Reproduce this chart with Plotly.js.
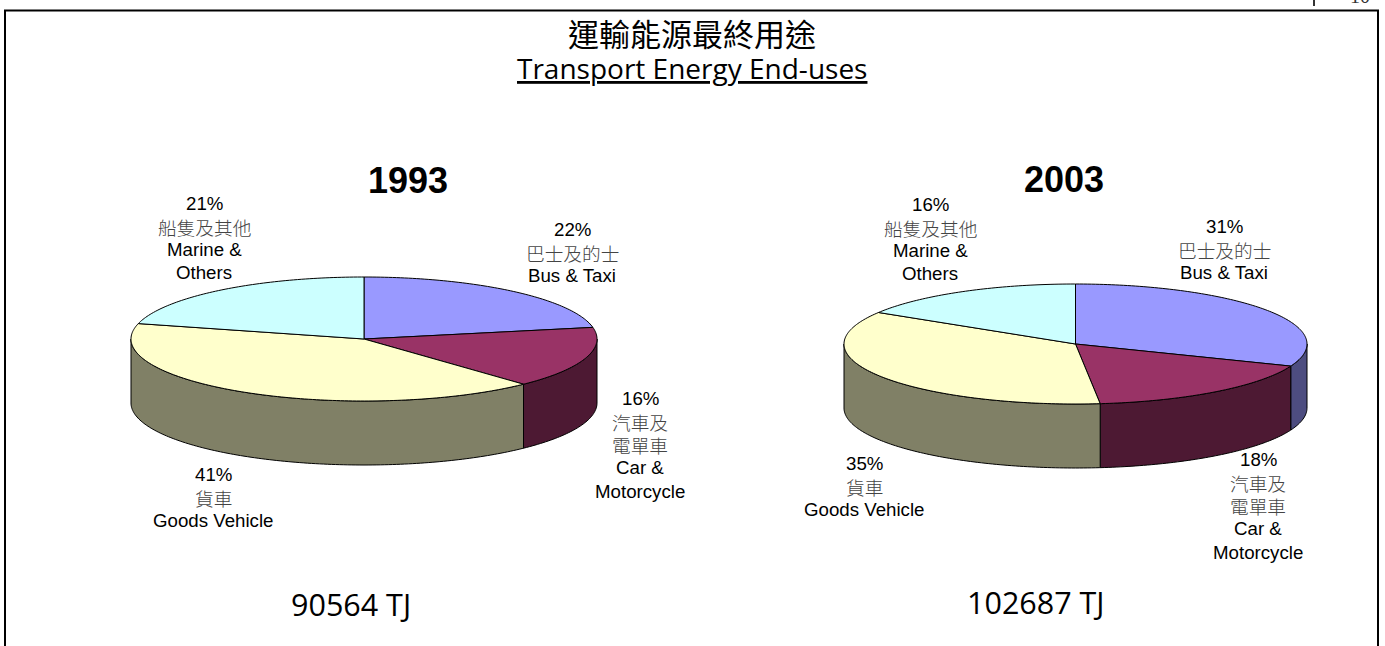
<!DOCTYPE html>
<html><head><meta charset="utf-8">
<script src="https://cdn.plot.ly/plotly-3.0.1.min.js"></script>
<style>html,body{margin:0;padding:0;background:#fff;overflow:hidden}#c{width:1385px;height:646px}</style>
</head><body><div id="c"></div>
<script>
const categoriesZh = ['巴士及的士','汽車及<br>電單車','貨車','船隻及其他'];
const categoriesEn = ['Bus & Taxi','Car &<br>Motorcycle','Goods Vehicle','Marine &<br>Others'];
const values1993 = [22, 16, 41, 21];
const values2003 = [31, 17.3, 35.5, 16.2];
const percent1993 = ['22%','16%','41%','21%'];
const percent2003 = ['31%','18%','35%','16%'];
const topColors = ['#9999FF','#993366','#FFFFCC','#CCFFFF'];
const wallColors = ['#4D4D80','#4D1933','#808066','#668080'];
const totals = ['90564 TJ','102687 TJ'];
const years = ['1993','2003'];

const pies = [
  {values:values1993, pct:percent1993, cx:364, cy:339, rx:233, ry:62, d:64,
   labels:[[572,229],[640,398],[213,474],[204,203]], year:[408,180], total:[351,604]},
  {values:values2003, pct:percent2003, cx:1075.5, cy:344, rx:231.5, ry:60, d:64,
   labels:[[1224,226],[1258,459],[864,463],[930,204]], year:[1064,179], total:[1036,602]}
];
const LH = 23.3;
const traces = [], annotations = [];
const CJK = '"Noto Sans CJK TC"', ARIAL = '"Liberation Sans", Arial, sans-serif', UI = '"Open Sans","Noto Sans CJK TC",sans-serif';

function note(x,y,text,size,family,extra){
  annotations.push(Object.assign({x,y,text,xref:'x',yref:'y',showarrow:false,xanchor:'center',yanchor:'middle',
    font:{size,family,color:'#000'}},extra||{}));
}
function poly(xs,ys,fill,name){
  traces.push({type:'scatter',mode:'lines',x:xs,y:ys,fill:'toself',fillcolor:fill,
    line:{color:'#000',width:1,simplify:false},hoverinfo:'skip',showlegend:false,name});
}
pies.forEach((p,pi)=>{
  const total = p.values.reduce((a,b)=>a+b,0);
  const px = t=>p.cx+p.rx*Math.sin(t*Math.PI/180);
  const py = t=>p.cy-p.ry*Math.cos(t*Math.PI/180);
  let start = 0; const spans=[];
  p.values.forEach(v=>{const end=start+v/total*360; spans.push([start,end]); start=end;});
  spans.forEach(([a,b],i)=>{
    const s=Math.max(a,90), e=Math.min(b,270);
    if(e<=s) return;
    const xs=[],ys=[];
    for(let t=s;;t=Math.min(t+1,e)){xs.push(px(t));ys.push(py(t)); if(t>=e)break;}
    for(let t=e;;t=Math.max(t-1,s)){xs.push(px(t));ys.push(py(t)+p.d); if(t<=s)break;}
    xs.push(xs[0]);ys.push(ys[0]);
    poly(xs,ys,wallColors[i],years[pi]+' wall '+i);
  });
  spans.forEach(([a,b],i)=>{
    const xs=[p.cx],ys=[p.cy];
    for(let t=a;;t=Math.min(t+1,b)){xs.push(px(t));ys.push(py(t)); if(t>=b)break;}
    xs.push(p.cx);ys.push(p.cy);
    poly(xs,ys,topColors[i],years[pi]+' '+categoriesEn[i]);
  });
  p.labels.forEach(([x,y],i)=>{
    let yy=y;
    note(x,yy,p.pct[i],18.7,ARIAL); yy+=LH;
    categoriesZh[i].split('<br>').forEach(l=>{note(x,yy,l,18.7,CJK,{font:{size:18.7,family:CJK,color:'#444',weight:300}}); yy+=LH;});
    categoriesEn[i].split('<br>').forEach(l=>{note(x,yy,l,18.7,ARIAL); yy+=LH;});
  });
  note(p.year[0],p.year[1],years[pi],36,ARIAL,{font:{size:36,family:ARIAL,color:'#000',weight:700}});
  note(p.total[0],p.total[1],totals[pi],30.5,UI);
});
note(692,32,'運輸能源最終用途',31,CJK);
note(692,68,'<u>Transport Energy End-uses</u>',28,UI);
note(1360,0,'10',20,'"Liberation Serif",serif',{yshift:4,font:{size:20,family:'"Liberation Serif",serif',color:'#333'}});

const layout = {
  width:1385,height:646,margin:{l:0,r:0,t:0,b:0},paper_bgcolor:'#fff',plot_bgcolor:'#fff',
  xaxis:{range:[0,1385],visible:false,fixedrange:true},
  yaxis:{range:[646,0],visible:false,fixedrange:true},
  showlegend:false,annotations,
  shapes:[
    {type:'line',xref:'x',yref:'y',x0:4,x1:1379,y0:10.5,y1:10.5,line:{color:'#000',width:2}},
    {type:'line',xref:'x',yref:'y',x0:5,x1:5,y0:10,y1:646,line:{color:'#000',width:2}},
    {type:'line',xref:'x',yref:'y',x0:1378,x1:1378,y0:10,y1:646,line:{color:'#000',width:2}},
    {type:'line',xref:'x',yref:'y',x0:1314,x1:1314,y0:0,y1:6,line:{color:'#333',width:2}}
  ]
};
Plotly.newPlot('c',traces,layout,{displayModeBar:false,staticPlot:true});
</script></body></html>
